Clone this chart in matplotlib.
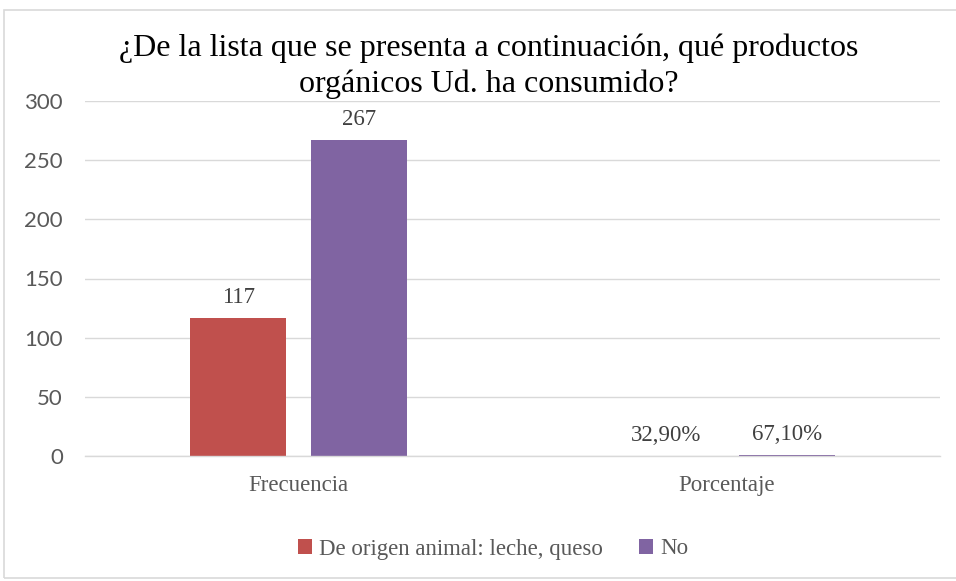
import matplotlib
matplotlib.use("Agg")
import matplotlib.pyplot as plt
import numpy as np
from matplotlib.patches import Rectangle

categories = ["Frecuencia", "Porcentaje"]
series_names = ["De origen animal: leche, queso", "No"]
animal = [117, 0.329]
no = [267, 0.671]
animal_labels = ["117", "32,90%"]
no_labels = ["267", "67,10%"]
yticks = [0, 50, 100, 150, 200, 250, 300]

colors = ["#C0504D", "#8064A2"]

fig = plt.figure(figsize=(9.56, 5.81), dpi=100)
W, H = 956, 581
ax = fig.add_axes([85 / W, 1 - 456 / H, 855 / W, 355 / H])

# outer chart border
fig.patches.append(Rectangle((4 / W, 1 - 578 / H), 1.0, 568 / H, transform=fig.transFigure,
                             fill=False, edgecolor="#d9d9d9", linewidth=1.2))

x = np.arange(len(categories))
bw = 0.225
off = 0.1415
b1 = ax.bar(x - off, animal, bw, color=colors[0], label=series_names[0])
b2 = ax.bar(x + off, no, bw, color=colors[1], label=series_names[1])

for bars, labs in ((b1, animal_labels), (b2, no_labels)):
    for rect, lab in zip(bars, labs):
        ax.annotate(lab, (rect.get_x() + rect.get_width() / 2, rect.get_height()),
                    xytext=(0, 7), textcoords="offset points", ha="center", va="bottom",
                    fontsize=16.5, color="#404040", family="Liberation Serif")

ax.set_xlim(-0.5, 1.5)
ax.set_ylim(0, 300)
ax.set_yticks(yticks)
ax.set_yticklabels([str(v) for v in yticks], fontsize=16, color="#595959", family="Lato")
ax.set_xticks(x)
ax.set_xticklabels(categories, fontsize=16.5, color="#595959", family="Liberation Serif")
ax.tick_params(axis="both", length=0)
ax.tick_params(axis="x", pad=14)
ax.tick_params(axis="y", pad=16)
ax.grid(axis="y", color="#d9d9d9", linewidth=1)
ax.set_axisbelow(True)
for s in ["top", "right", "left"]:
    ax.spines[s].set_visible(False)
ax.spines["bottom"].set_color("#d9d9d9")
ax.spines["bottom"].set_linewidth(1)

fig.text(489 / W, 1 - 66 / H, "¿De la lista que se presenta a continuación, qué productos\norgánicos Ud. ha consumido?",
         ha="center", va="center", fontsize=23, family="Liberation Serif", color="black",
         linespacing=1.3)

leg = fig.legend(handles=[b1, b2], labels=series_names, loc="center", bbox_to_anchor=(493 / W, 1 - 549 / H),
                 ncol=2, frameon=False, handlelength=0.6, handleheight=0.6, handletextpad=0.3,
                 columnspacing=1.6, prop={"family": "Liberation Serif", "size": 16.5})
for t in leg.get_texts():
    t.set_color("#595959")

fig.savefig("out.png", dpi=100)
